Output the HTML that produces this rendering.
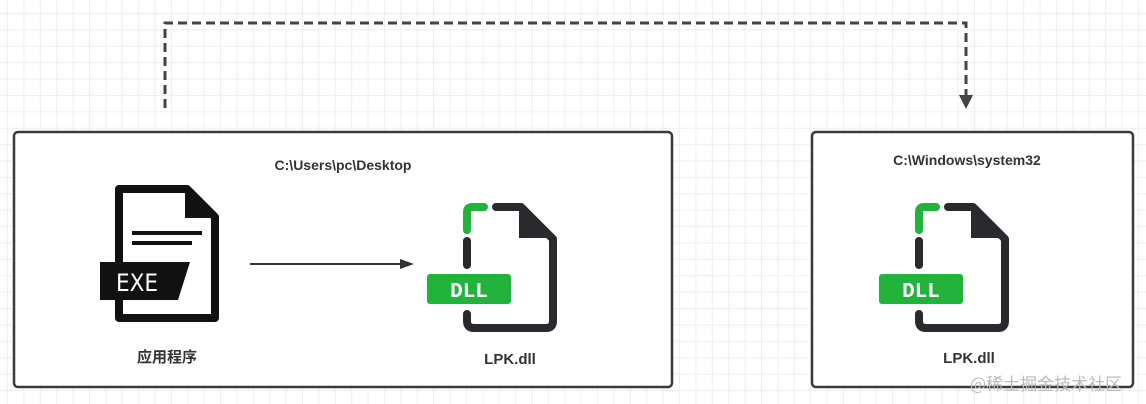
<!DOCTYPE html>
<html><head><meta charset="utf-8"><style>
html,body{margin:0;padding:0;}
body{width:1146px;height:404px;overflow:hidden;background:#fff;
background-image:linear-gradient(#eeeeee 1px,transparent 1px),linear-gradient(90deg,#eeeeee 1px,transparent 1px);
background-size:16.4px 16.4px;background-position:7px 13px;position:relative;font-family:"Liberation Sans","Noto Sans CJK SC",sans-serif;}
</style></head><body>
<svg width="1146" height="404" style="position:absolute;left:0;top:0" xmlns="http://www.w3.org/2000/svg">
<path d="M165 108 V23 H966 V95" fill="none" stroke="#444" stroke-width="3" stroke-dasharray="9 5"/>
<polygon points="959,95 973,95 966,109" fill="#444"/>
<rect x="14" y="132" width="658" height="255" rx="4" fill="#fff" stroke="#3a3a3a" stroke-width="2.5"/>
<rect x="812" y="132" width="321" height="255" rx="4" fill="#fff" stroke="#3a3a3a" stroke-width="2.5"/>
<path d="M119 189 H187 L215 217 V318 H119 Z" fill="#fff" stroke="#111" stroke-width="8" stroke-linejoin="round"/>
<path d="M185 187 V218 H217 Z" fill="#111"/>
<rect x="132" y="231" width="70" height="4" fill="#111"/>
<rect x="132" y="241" width="60" height="4" fill="#111"/>
<polygon points="100,262 190,262 178,300 100,300" fill="#111"/>
<text x="116" y="291" font-size="24" fill="#fff" font-family="DejaVu Sans Condensed,Liberation Sans,sans-serif">EXE</text>
<line x1="250" y1="264" x2="402" y2="264" stroke="#333" stroke-width="2"/>
<polygon points="400,259 414,264 400,269" fill="#333"/>
<g id="dll">
<path d="M467 230 V212 Q467 207 472 207 H484" fill="none" stroke="#22b33c" stroke-width="8" stroke-linecap="round"/>
<path d="M496 207 H521 L553 239 V321 Q553 328 546 328 H474 Q467 328 467 321 V314" fill="none" stroke="#2a2a2e" stroke-width="8" stroke-linecap="round" stroke-linejoin="round"/>
<path d="M519 205 V238 H554 Z" fill="#2a2a2e"/>
<line x1="467" y1="241" x2="467" y2="265" stroke="#2a2a2e" stroke-width="8" stroke-linecap="round"/>
<rect x="427" y="274" width="84" height="30" rx="3" fill="#22b33c"/>
<text x="469" y="297" font-size="21" font-weight="bold" fill="#fff" text-anchor="middle" font-family="Liberation Mono,monospace">DLL</text>
</g>
<use href="#dll" x="452" y="0"/>
<text x="343" y="170" font-size="14" font-weight="bold" fill="#333" text-anchor="middle">C:\Users\pc\Desktop</text>
<text x="967" y="165" font-size="14" font-weight="bold" fill="#333" text-anchor="middle">C:\Windows\system32</text>
<text x="167" y="362" font-size="15" font-weight="bold" fill="#333" text-anchor="middle" font-family="Noto Sans CJK SC,sans-serif">应用程序</text>
<text x="510" y="364" font-size="15" font-weight="bold" fill="#333" text-anchor="middle">LPK.dll</text>
<text x="969" y="363" font-size="15" font-weight="bold" fill="#333" text-anchor="middle">LPK.dll</text>
<text x="970" y="390" font-size="17" fill="#bbb" font-family="Noto Sans CJK SC,sans-serif">@稀土掘金技术社区</text>
</svg>
</body></html>
